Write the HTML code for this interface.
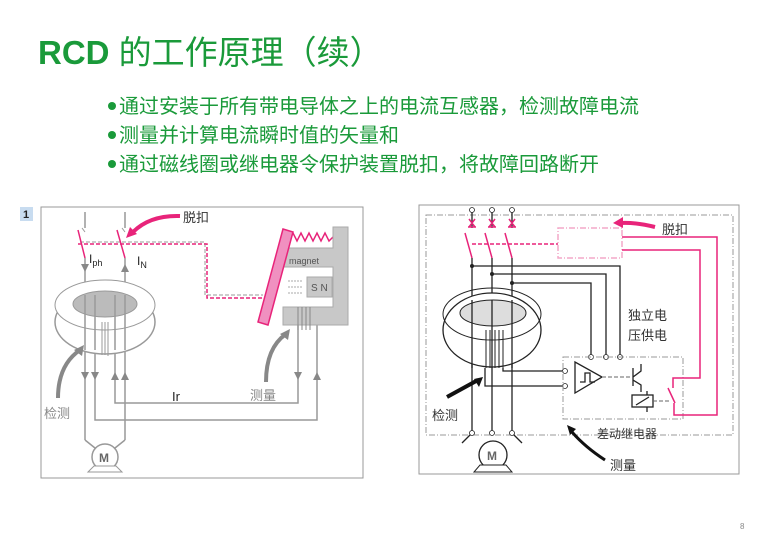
<!DOCTYPE html>
<html><head><meta charset="utf-8"><style>
body{margin:0;width:780px;height:540px;background:#fff;overflow:hidden;font-family:"Liberation Sans","Noto Sans CJK SC",sans-serif}
</style></head><body>
<svg width="780" height="540" viewBox="0 0 780 540" xmlns="http://www.w3.org/2000/svg" font-family="Liberation Sans, Noto Sans CJK SC, sans-serif">
<text x="38" y="64" font-size="33" fill="#1a9a3a"><tspan font-weight="bold">RCD</tspan> 的工作原理（续）</text>
<g fill="#1a9a3a" font-size="20">
<circle cx="112" cy="106" r="4"/><text x="119" y="113">通过安装于所有带电导体之上的电流互感器，检测故障电流</text>
<circle cx="112" cy="135" r="4"/><text x="119" y="142">测量并计算电流瞬时值的矢量和</text>
<circle cx="112" cy="164" r="4"/><text x="119" y="171">通过磁线圈或继电器令保护装置脱扣，将故障回路断开</text>
</g>
<text x="740" y="529" font-size="8" fill="#888">8</text>

<!-- LEFT -->
<rect x="20" y="207" width="13" height="14" fill="#c8dcf0"/>
<text x="23" y="218" font-size="11" font-weight="bold" fill="#222">1</text>
<rect x="41" y="207" width="322" height="271" fill="none" stroke="#999"/>
<g stroke="#999" stroke-width="1.5" fill="none">
<path d="M85 212V228M125 212V228M85 258V440M125 258V440"/>
<path d="M85 440L95 448M125 440L115 448"/>
<path d="M115 350V403H298V308M95 350V420H317V308"/>
<path d="M80 242H205V295H263" stroke="#bbb" stroke-dasharray="4 2"/>
</g>
<path d="M82 228L85 232M122 228L125 232" stroke="#999"/>
<g stroke="#e8247a" stroke-width="1.5" fill="none">
<path d="M78 230L85 258M117 230L125 258"/>
<path d="M78 244H207V298H263" stroke-dasharray="4 2"/>
<path d="M289 237l4-4 4 8 4-8 4 8 4-8 4 8 4-8 4 8 4-8 4 8 4-4"/>
</g>
<g fill="#888">
<path d="M81 264h8l-4 8z M121 272h8l-4-8z M81 372h8l-4 8z M91 372h8l-4 8z M111 380h8l-4-8z M121 380h8l-4-8z M294 372h8l-4 8z M313 380h8l-4-8z"/>
</g>
<text x="89" y="263" font-size="12" fill="#222">I<tspan font-size="9" dy="3">ph</tspan></text>
<text x="137" y="265" font-size="12" fill="#222">I<tspan font-size="9" dy="3">N</tspan></text>
<text x="172" y="401" font-size="13" fill="#222">Ir</text>
<!-- torus -->
<ellipse cx="105" cy="322" rx="50" ry="32" fill="#fff" stroke="#999" stroke-width="1.5"/>
<ellipse cx="105" cy="305" rx="50" ry="25" fill="#fff" stroke="#999"/>
<ellipse cx="105" cy="304" rx="32" ry="13" fill="#bbb" stroke="#999"/>
<path d="M85 295V350M95 295V350M115 295V350M125 295V350" stroke="#999" stroke-width="1.5"/>
<path d="M102 322V355M105 322V355M108 322V356" stroke="#999"/>
<!-- motor -->
<circle cx="105" cy="457" r="13" fill="#fff" stroke="#999" stroke-width="1.5"/>
<text x="99" y="462" font-size="12" font-weight="bold" fill="#666">M</text>
<path d="M88 472h34l-6-6h-22z" fill="#fff" stroke="#999"/>
<!-- magnet -->
<path d="M333 227h15v98h-65v-18h50v-40h-50v-19h50z" fill="#c8c8c8" stroke="#aaa"/>
<rect x="307" y="277" width="25" height="20" fill="#c8c8c8" stroke="#aaa"/>
<text x="289" y="264" font-size="9" fill="#555">magnet</text>
<text x="311" y="291" font-size="10" fill="#555">S N</text>
<path d="M298 307V330M302 307V330M306 307V330M310 307V330" stroke="#888"/>
<path d="M288 281h15M288 287h15M288 293h15" stroke="#aaa" stroke-dasharray="2 1"/>
<polygon points="283,229 293,232 268,325 258,322" fill="#f090c0" stroke="#e8247a" stroke-width="1.5"/>
<!-- arrows -->
<path d="M180 216Q150 215 133 232" stroke="#e8247a" stroke-width="4" fill="none"/>
<path d="M126 238l4-11 7 7z" fill="#e8247a"/>
<text x="183" y="222" font-size="13" fill="#333">脱扣</text>
<path d="M58 398Q58 365 80 350" stroke="#888" stroke-width="4" fill="none"/>
<path d="M84 345l-2 11-8-6z" fill="#888"/>
<text x="44" y="418" font-size="13" fill="#888">检测</text>
<path d="M266 382Q266 348 286 334" stroke="#888" stroke-width="4" fill="none"/>
<path d="M290 329l-2 11-8-6z" fill="#888"/>
<text x="250" y="400" font-size="13" fill="#888">测量</text>

<!-- RIGHT -->
<rect x="419" y="205" width="320" height="269" fill="none" stroke="#999"/>
<rect x="426" y="215" width="307" height="220" fill="none" stroke="#999" stroke-dasharray="6 2 1 2"/>
<g stroke="#222" stroke-width="1.3" fill="none">
<path d="M472 212V228M492 212V228M512 212V228M472 258V433M492 258V433M512 258V433"/>
<path d="M472 266H620V357M492 274H606V357M512 283H591V357"/>
<path d="M503 368V371H563M485 368V386H563"/>
<path d="M575 362V393L602 377z"/>
<path d="M580 382h5v-9h5v9h5"/>
<path d="M633 368v18M633 377l8-6v-7M633 380l8 5v7M647 391V395M647 407V412"/>
<rect x="632" y="395" width="21" height="12"/>
<path d="M636 405l13-8"/>
<path d="M472 433L462 443M512 433L522 443"/>
</g>
<g fill="#222"><circle cx="472" cy="266" r="2"/><circle cx="492" cy="274" r="2"/><circle cx="512" cy="283" r="2"/></g>
<g fill="#fff" stroke="#222" stroke-width="0.8">
<circle cx="472" cy="210" r="2.5"/><circle cx="492" cy="210" r="2.5"/><circle cx="512" cy="210" r="2.5"/>
<circle cx="472" cy="433" r="2.5"/><circle cx="492" cy="433" r="2.5"/><circle cx="512" cy="433" r="2.5"/>
<circle cx="591" cy="357" r="2.5"/><circle cx="606" cy="357" r="2.5"/><circle cx="620" cy="357" r="2.5"/>
<circle cx="565" cy="371" r="2.5"/><circle cx="565" cy="386" r="2.5"/>
</g>
<path d="M602 377H630M653 401H670" stroke="#666" stroke-dasharray="4 2"/>
<rect x="563" y="357" width="120" height="62" fill="none" stroke="#999" stroke-dasharray="6 2 1 2"/>
<g stroke="#e8247a" stroke-width="1.5" fill="none">
<path d="M469 219l6 8M475 219l-6 8M489 219l6 8M495 219l-6 8M509 219l6 8M515 219l-6 8M468 227h8M488 227h8M508 227h8"/>
<path d="M465 233L472 258M485 233L492 258M505 233L512 258"/>
<path d="M472 244H558" stroke-dasharray="4 2"/>
<rect x="558" y="228" width="64" height="30" stroke="#f4a8c8" stroke-dasharray="6 2 1 2"/>
<path d="M622 237H717V415H674V403M622 250H700V378H673V388M668 388L675 403"/>
</g>
<path d="M655 227Q635 222 620 223" stroke="#e8247a" stroke-width="4" fill="none"/>
<path d="M613 223l10-6v11z" fill="#e8247a"/>
<text x="662" y="234" font-size="13" fill="#333">脱扣</text>
<!-- torus right -->
<ellipse cx="492" cy="330" rx="49" ry="37" fill="#fff" stroke="#222" stroke-width="1.3"/>
<ellipse cx="492" cy="314" rx="49" ry="26" fill="none" stroke="#222"/>
<ellipse cx="493" cy="313" rx="33" ry="13" fill="#ddd" stroke="#222"/>
<path d="M472 300V368M492 300V368M512 300V368" stroke="#222" stroke-width="1.3"/>
<path d="M486 330V368M490 330V368M495 330V368M499 330V368M503 330V368" stroke="#222"/>
<circle cx="493" cy="455" r="14" fill="#fff" stroke="#222" stroke-width="1.3"/>
<text x="487" y="460" font-size="12" font-weight="bold" fill="#666">M</text>
<path d="M474 472h38l-6-7h-26z" fill="#fff" stroke="#222"/>
<text x="628" y="320" font-size="13" fill="#333">独立电</text>
<text x="628" y="340" font-size="13" fill="#333">压供电</text>
<text x="597" y="438" font-size="12" fill="#333">差动继电器</text>
<text x="432" y="420" font-size="13" fill="#333">检测</text>
<text x="610" y="470" font-size="13" fill="#333">测量</text>
<path d="M447 397L478 380" stroke="#111" stroke-width="4"/>
<path d="M483 377l-4 10-5-8z" fill="#111"/>
<path d="M605 460Q585 447 572 432" stroke="#111" stroke-width="3" fill="none"/>
<path d="M567 425l9 4-6 6z" fill="#111"/>
</svg>
</body></html>
